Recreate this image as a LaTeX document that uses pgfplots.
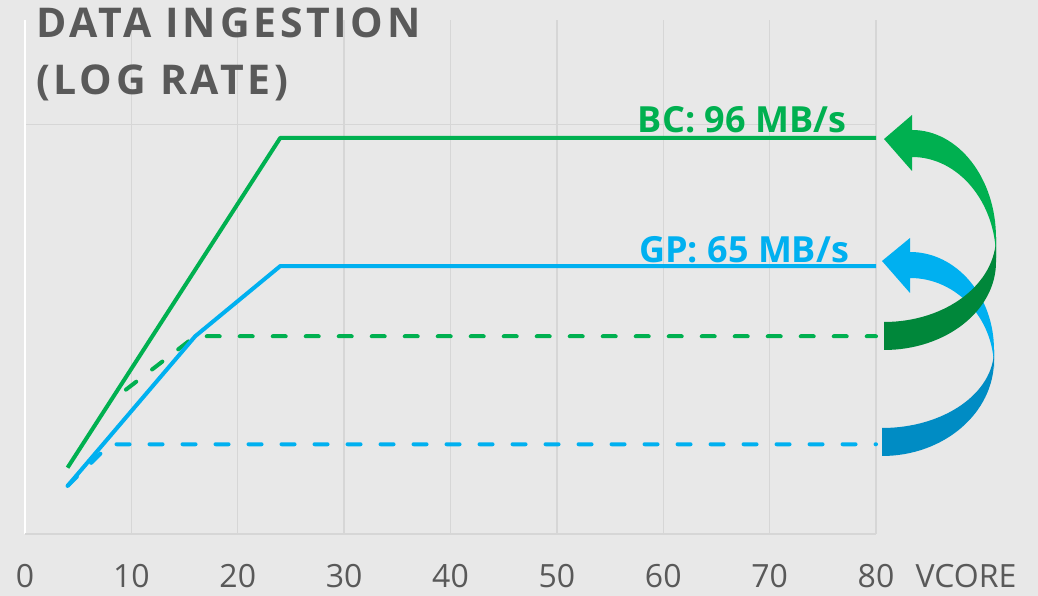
\documentclass[border=0pt]{standalone}
\usepackage{pgfplots}
\pgfplotsset{compat=1.18}
\usepackage{fontspec}
\setmainfont{Open Sans}
\newfontfamily\titlefont[LetterSpace=9]{Open Sans}
\definecolor{bg}{HTML}{E8E8E8}
\definecolor{gridc}{HTML}{D6D6D6}
\definecolor{txt}{HTML}{595959}
\definecolor{bcg}{HTML}{00B050}
\definecolor{bcgd}{HTML}{00873A}
\definecolor{gpb}{HTML}{00B0F0}
\definecolor{gpbd}{HTML}{008CC4}
\begin{document}
\begin{tikzpicture}[x=1pt,y=1pt]
\fill[bg] (-25,-62) rectangle (1013,534);
\begin{axis}[
  at={(0,0)}, anchor=south west,
  scale only axis, width=851pt, height=514pt,
  xmin=0, xmax=80, ymode=log, ymin=28.77, ymax=137.4,
  axis line style={draw=none},
  xtick={0,10,...,80}, xticklabels={0,10,20,30,40,50,60,70,80},
  ytick={100}, yticklabels={},
  major tick length=0pt,
  xmajorgrids, ymajorgrids,
  grid style={gridc, line width=1.5pt},
  /pgf/number format/assume math mode=true,
  xticklabel style={anchor=base, yshift=-54pt, font=\fontsize{32}{32}\selectfont, text=txt},
  clip=false,
]
\draw[white, line width=1.5pt] (rel axis cs:0,0) -- (rel axis cs:0,1);
\draw[gridc, line width=1.5pt] (rel axis cs:0,0) -- (rel axis cs:1,0);
\addplot[bcg, line width=4pt, line cap=round, dash pattern=on 13pt off 20pt, dash phase=13pt] coordinates {(8,43) (16,52.5) (80,52.5)};
\addplot[gpb, line width=4pt, line cap=round, dash pattern=on 13pt off 20pt] coordinates {(4,33.3) (8,37.8) (80,37.8)};
\addplot[bcg, line width=4pt, line join=round] coordinates {(4,35.2) (24,96) (80,96)};
\addplot[gpb, line width=4pt, line join=round] coordinates {(4,33.3) (16,52.5) (24,65) (80,65)};
\node[anchor=base, text=bcg, font=\bfseries\fontsize{36}{36}\selectfont, yshift=5pt] at (axis cs:67.4,96) {BC: 96 MB/s};
\node[anchor=base, text=gpb, font=\bfseries\fontsize{36}{36}\selectfont, yshift=4pt] at (axis cs:67.6,65) {GP: 65 MB/s};
\node[anchor=base west, text=txt, font=\fontsize{32}{32}\selectfont, xshift=36pt, yshift=-54pt] at (rel axis cs:1,0) {VCORE};
\end{axis}
% title
\node[anchor=base west, inner sep=0pt, text=txt, font=\titlefont\bfseries\fontsize{41}{41}\selectfont] at (11,496) {DATA INGESTION};
\node[anchor=base west, inner sep=0pt, text=txt, font=\titlefont\bfseries\fontsize{41}{41}\selectfont] at (11,439) {(LOG RATE)};
% blue arrow (light part)
\fill[gpb] (885,282) arc[start angle=90, end angle=0, x radius=84, y radius=98] -- (969,166)
  arc[start angle=0, end angle=90, x radius=84, y radius=90] -- (885,241) -- (857,273) -- (885,296) -- cycle;
% blue arrow (dark part)
\fill[gpbd] (969,184) -- (969,174) arc[start angle=0, end angle=-90, x radius=112, y radius=96] -- (857,106)
  arc[start angle=-90, end angle=0, x radius=112, y radius=78] -- cycle;
% green arrow (dark part)
\fill[bcgd] (971,297) -- (971,272) arc[start angle=0, end angle=-90, x radius=112, y radius=88] -- (859,212)
  arc[start angle=-90, end angle=0, x radius=112, y radius=85] -- cycle;
% green arrow (light part)
\fill[bcg] (887,404) arc[start angle=90, end angle=0, x radius=84, y radius=108] -- (971,276)
  arc[start angle=0, end angle=90, x radius=84, y radius=101] -- (887,363) -- (859,395) -- (887,419) -- cycle;
\end{tikzpicture}
\end{document}
